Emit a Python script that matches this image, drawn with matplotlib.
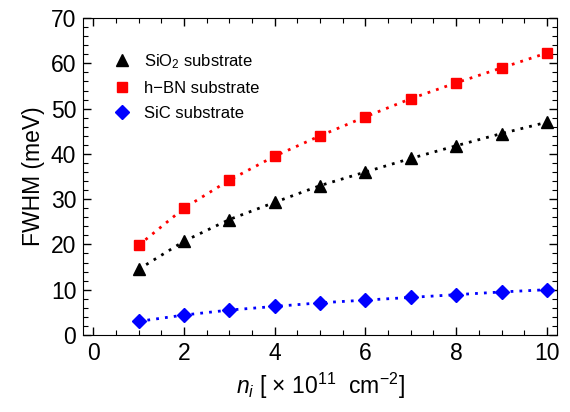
import matplotlib
matplotlib.use("Agg")
import matplotlib.pyplot as plt
from matplotlib.ticker import MultipleLocator

plt.rcParams["font.family"] = ["Liberation Sans", "DejaVu Sans"]
plt.rcParams["mathtext.fontset"] = "custom"
plt.rcParams["mathtext.rm"] = "Liberation Sans"
plt.rcParams["mathtext.it"] = "Liberation Sans:italic"

n_i = [1, 2, 3, 4, 5, 6, 7, 8, 9, 10]
fwhm_sio2 = [14.5, 20.7, 25.5, 29.3, 33.0, 36.0, 39.0, 41.8, 44.5, 47.0]
fwhm_hbn = [19.8, 28.0, 34.2, 39.5, 44.0, 48.2, 52.2, 55.7, 59.0, 62.3]
fwhm_sic = [3.0, 4.4, 5.5, 6.3, 7.1, 7.7, 8.3, 8.9, 9.5, 10.0]

series = [
    (fwhm_sio2, "black", "^", 9, "SiO$_2$ substrate"),
    (fwhm_hbn, "red", "s", 7.5, "h\u2212BN substrate"),
    (fwhm_sic, "blue", "D", 7, "SiC substrate"),
]

fig = plt.figure(figsize=(5.7, 4.12), dpi=100)
ax = fig.add_axes([0.146, 0.187, 0.831, 0.769])

for y, color, marker, ms, label in series:
    ax.plot(n_i, y, linestyle=(0, (1, 2.2)), color=color, lw=2.0)
    ax.plot(n_i, y, linestyle="none", marker=marker, color=color,
            markersize=ms, label=label)

ax.set_xlim(-0.22, 10.22)
ax.set_ylim(0, 70)
ax.xaxis.set_major_locator(MultipleLocator(2))
ax.xaxis.set_minor_locator(MultipleLocator(0.5))
ax.yaxis.set_major_locator(MultipleLocator(10))
ax.yaxis.set_minor_locator(MultipleLocator(2))
ax.tick_params(which="both", direction="in", top=True, right=True,
               labelsize=16.5, pad=5)
ax.tick_params(which="major", length=6, width=1)
ax.tick_params(which="minor", length=3.5, width=0.8)

ax.set_xlabel(r"$n_i$ [ $\times$ 10$^{11}$  cm$^{-2}$]", fontsize=16.5)
ax.set_ylabel("FWHM (meV)", fontsize=16.5)

ax.legend(loc="upper left", bbox_to_anchor=(0.03, 0.94), frameon=False,
          fontsize=12, handlelength=1.2, handletextpad=0.7, labelspacing=0.6)

fig.savefig("out.png", dpi=100)
